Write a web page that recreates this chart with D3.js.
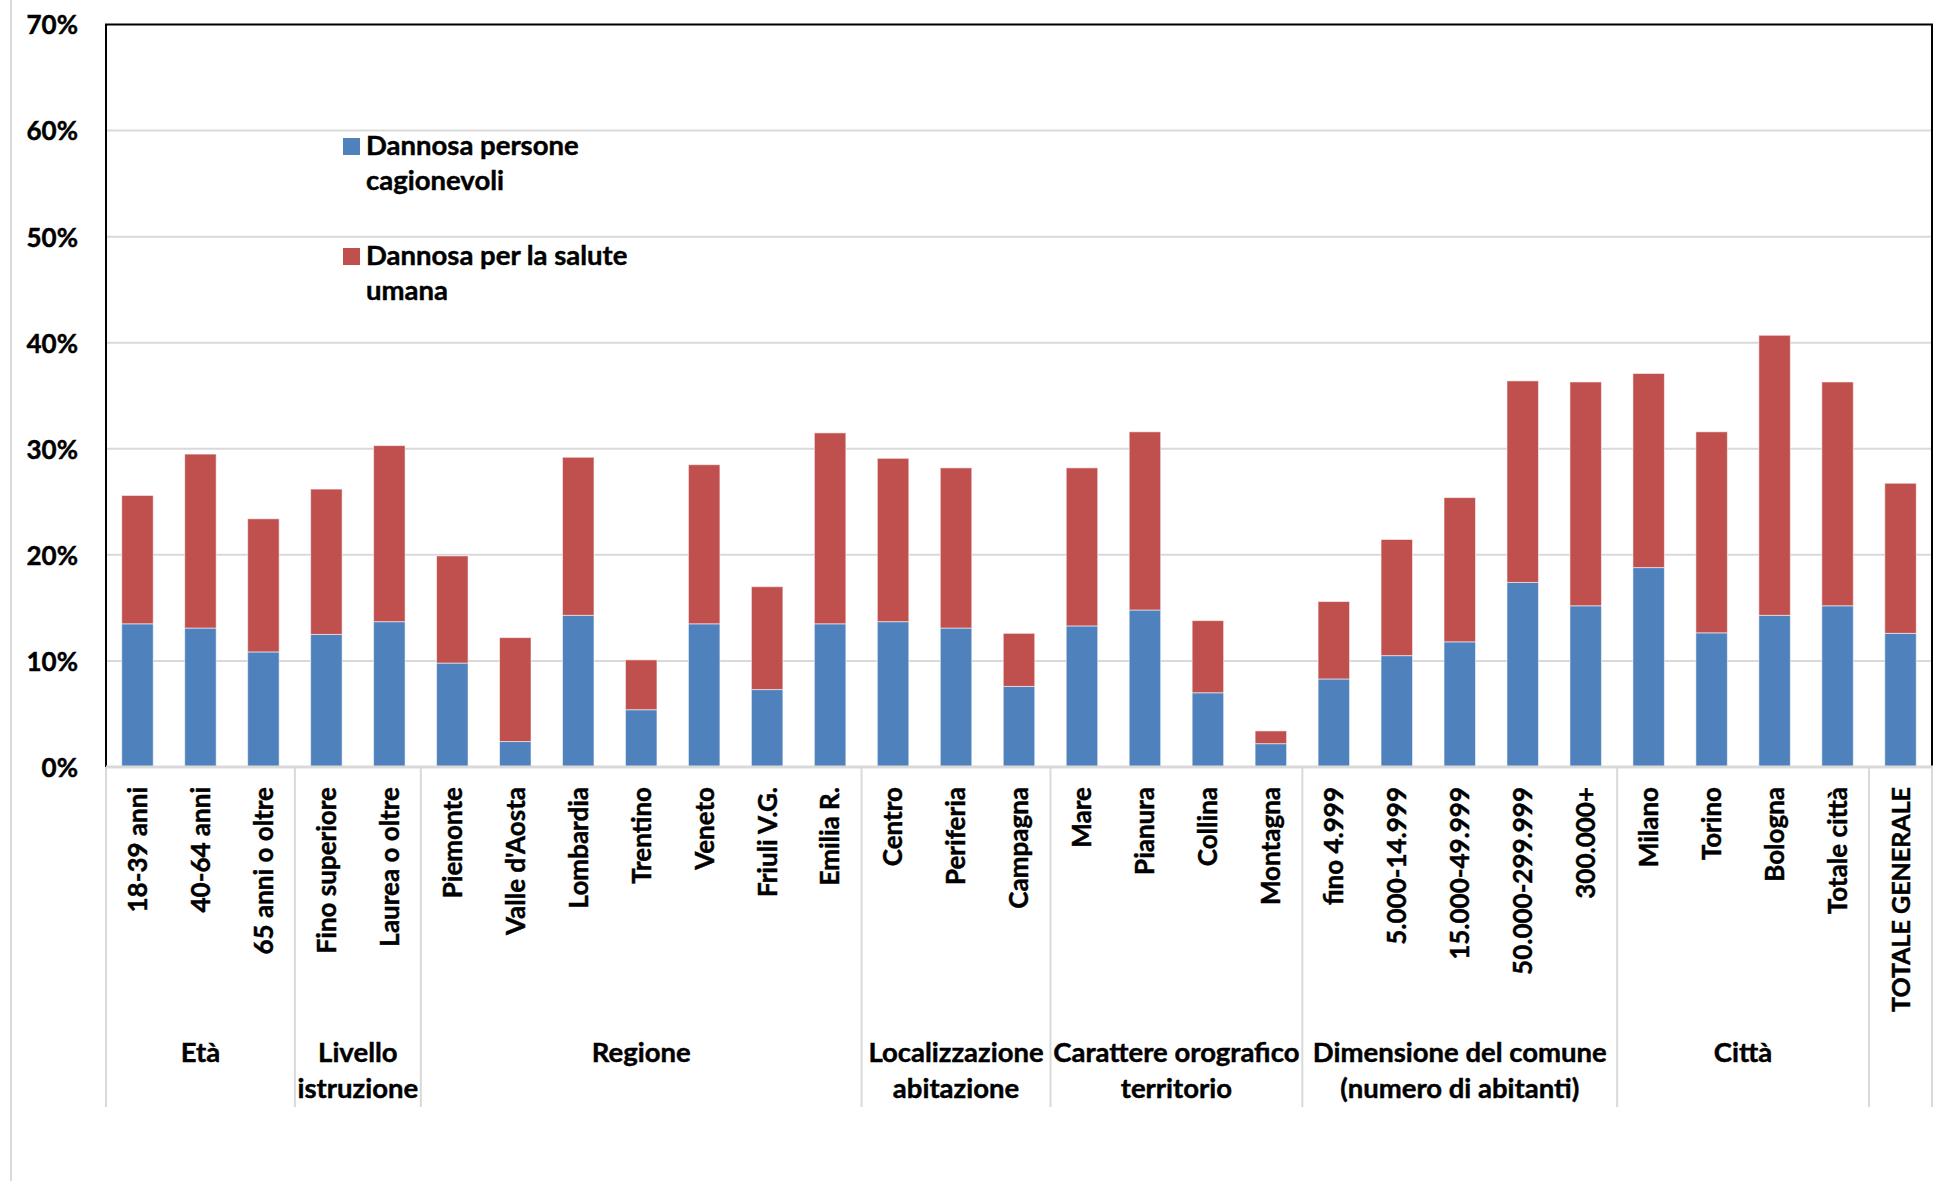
<!DOCTYPE html>
<html>
<head>
<meta charset="utf-8">
<script src="https://cdn.jsdelivr.net/npm/d3@7"></script>
<style>
  html, body { margin: 0; padding: 0; background: #fff; }
  svg { display: block; }
  text { font-family: Lato, "Open Sans", sans-serif; font-weight: 700; fill: #000; stroke: #000; stroke-width: 0.45px; }
</style>
</head>
<body>
<svg id="chart" width="1939" height="1181"></svg>
<script>
// ---- Data ----
const categories = [
  "18-39 anni", "40-64 anni", "65 anni o oltre",
  "Fino superiore", "Laurea o oltre",
  "Piemonte", "Valle d'Aosta", "Lombardia", "Trentino", "Veneto", "Friuli V.G.", "Emilia R.",
  "Centro", "Periferia", "Campagna",
  "Mare", "Pianura", "Collina", "Montagna",
  "fino 4.999", "5.000-14.999", "15.000-49.999", "50.000-299.999", "300.000+",
  "Milano", "Torino", "Bologna", "Totale città",
  "TOTALE GENERALE"
];
// Blue series: "Dannosa persone cagionevoli" (%)
const cagionevoli = [
  13.5, 13.1, 10.85,
  12.5, 13.7,
  9.8, 2.4, 14.3, 5.4, 13.5, 7.3, 13.5,
  13.7, 13.1, 7.6,
  13.3, 14.8, 7.0, 2.2,
  8.3, 10.5, 11.8, 17.4, 15.2,
  18.8, 12.65, 14.3, 15.2,
  12.6
];
// Red series (stacked on top): "Dannosa per la salute umana" (%)
const saluteUmana = [
  12.1, 16.4, 12.55,
  13.7, 16.6,
  10.1, 9.8, 14.9, 4.7, 15.0, 9.7, 18.0,
  15.4, 15.1, 5.0,
  14.9, 16.8, 6.8, 1.2,
  7.3, 10.95, 13.6, 19.0, 21.1,
  18.3, 18.95, 26.4, 21.1,
  14.15
];
const groupLabels = [
  ["Età"], ["Livello", "istruzione"], ["Regione"], ["Localizzazione", "abitazione"],
  ["Carattere orografico", "territorio"], ["Dimensione del comune", "(numero di abitanti)"],
  ["Città"], [""]
];
const groupSizes = [3, 2, 7, 3, 4, 5, 4, 1];
const seriesNames = ["Dannosa persone cagionevoli", "Dannosa per la salute umana"];
const seriesLegendLines = [["Dannosa persone", "cagionevoli"], ["Dannosa per la salute", "umana"]];
const yTicks = [0, 10, 20, 30, 40, 50, 60, 70];

// ---- Layout ----
const colors = ["#4F81BD", "#C0504D"];
const plotLeft = 106, plotRight = 1932, plotTop = 24.5, plotBottom = 767;
const sepBottom = 1107;

const svg = d3.select("#chart");

const rows = categories.map((c, i) => ({ cat: c, s0: cagionevoli[i], s1: saluteUmana[i] }));
const stacked = d3.stack().keys(["s0", "s1"])(rows);

const x = d3.scaleBand().domain(categories).range([plotLeft, plotRight]).paddingInner(0.5).paddingOuter(0.25);
const y = d3.scaleLinear().domain([0, 70]).range([plotBottom, plotTop]);

// outer left border line of chart area
svg.append("line").attr("x1", 11).attr("x2", 11).attr("y1", 0).attr("y2", 1181)
  .attr("stroke", "#d9d9d9").attr("stroke-width", 2);

// gridlines
svg.append("g").selectAll("line").data(yTicks.filter(t => t > 0 && t < 70)).join("line")
  .attr("x1", plotLeft).attr("x2", plotRight)
  .attr("y1", d => y(d)).attr("y2", d => y(d))
  .attr("stroke", "#d9d9d9").attr("stroke-width", 2);

// y axis labels
const yAxis = d3.axisLeft(y).tickValues(yTicks).tickSize(0).tickPadding(0).tickFormat(d => d + "%");
const ya = svg.append("g").attr("transform", `translate(78,0)`).call(yAxis);
ya.select(".domain").remove();
ya.selectAll("text").attr("font-size", 26).attr("font-family", "Lato, sans-serif")
  .attr("font-weight", 700).attr("fill", "#000").attr("dy", "0.36em");

// bars
svg.append("g").selectAll("g").data(stacked).join("g")
  .attr("fill", (d, i) => colors[i])
  .selectAll("rect").data(d => d).join("rect")
  .attr("x", d => x(d.data.cat))
  .attr("width", x.bandwidth())
  .attr("y", d => y(d[1]))
  .attr("height", d => y(d[0]) - y(d[1]))
  .attr("stroke", "rgba(255,255,255,0.55)")
  .attr("stroke-width", 1);

// plot frame (black) top, left, right
svg.append("path")
  .attr("d", `M${plotLeft},${plotBottom} V${plotTop} H${plotRight} V${plotBottom}`)
  .attr("fill", "none").attr("stroke", "#000").attr("stroke-width", 2);

// category axis line (gray)
svg.append("line").attr("x1", plotLeft).attr("x2", plotRight + 1).attr("y1", plotBottom).attr("y2", plotBottom)
  .attr("stroke", "#d9d9d9").attr("stroke-width", 3);

// group separators
const bounds = [0];
groupSizes.forEach(s => bounds.push(bounds[bounds.length - 1] + s));
const step = x.step();
const xAt = k => plotLeft + k * step;
svg.append("g").selectAll("line").data(bounds).join("line")
  .attr("x1", d => xAt(d)).attr("x2", d => xAt(d))
  .attr("y1", plotBottom).attr("y2", sepBottom)
  .attr("stroke", "#d9d9d9").attr("stroke-width", 2);

// rotated category labels
svg.append("g").selectAll("text").data(categories).join("text")
  .attr("transform", d => `translate(${x(d) + x.bandwidth() / 2},787) rotate(-90)`)
  .attr("text-anchor", "end")
  .attr("dy", "0.36em")
  .attr("font-size", d => d === "TOTALE GENERALE" ? 25 : 26)
  .attr("font-family", d => d === "TOTALE GENERALE" ? "'Liberation Sans', Arial, sans-serif" : "Lato, sans-serif")
  .text(d => d);

// group labels
const gl = svg.append("g").selectAll("text").data(groupLabels).join("text")
  .attr("text-anchor", "middle")
  .attr("font-size", 27.5)
  .attr("y", 1062);
gl.selectAll("tspan").data((d, i) => d.map(l => ({ l, i }))).join("tspan")
  .attr("x", d => (xAt(bounds[d.i]) + xAt(bounds[d.i + 1])) / 2)
  .attr("dy", (d, j) => j === 0 ? 0 : 36)
  .text(d => d.l);

// legend
const legendY = [138, 248];
const lg = svg.append("g");
seriesNames.forEach((name, i) => {
  lg.append("rect").attr("x", 343).attr("y", legendY[i]).attr("width", 17).attr("height", 17)
    .attr("fill", colors[i]);
  const t = lg.append("text").attr("x", 366).attr("y", legendY[i] + 17).attr("font-size", 27.5);
  seriesLegendLines[i].forEach((line, j) => {
    t.append("tspan").attr("x", 366).attr("dy", j === 0 ? 0 : 35).text(line);
  });
});
</script>
</body>
</html>
